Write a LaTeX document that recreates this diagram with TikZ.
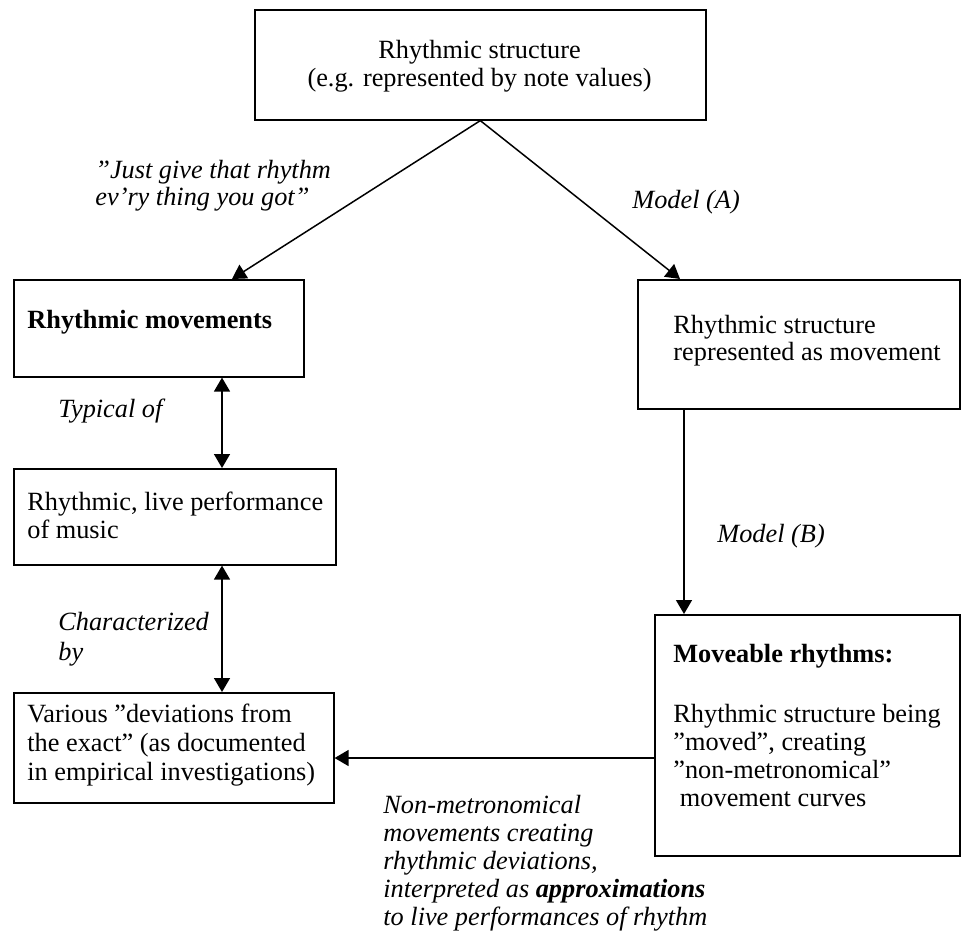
\documentclass[tikz,border=0pt]{standalone}
\usepackage{fontspec}
\setmainfont{Liberation Serif}
\usetikzlibrary{arrows.meta,calc}
% top-aligned block of lines: width, baselineskip, content
\newcommand{\blocktext}[3]{\parbox[t]{#1}{\fontsize{13.15pt}{#2}\selectfont #3}}
\begin{document}
\begin{tikzpicture}[x=0.5pt,y=-0.5pt,
  box/.style={draw,line width=0.8pt,rectangle,inner sep=0pt,anchor=north west},
  txt/.style={inner sep=0pt,anchor=base west,font=\fontsize{13.15pt}{14pt}\selectfont},
  lab/.style={txt,font=\fontsize{13.15pt}{14pt}\selectfont\itshape},
  arr/.style={line width=0.75pt,-{Triangle[length=7pt,width=8pt]}},
  dbl/.style={line width=0.75pt,{Triangle[length=7pt,width=8pt]}-{Triangle[length=7pt,width=8pt]}}]
\useasboundingbox[fill=white] (0,0) rectangle (961,931);

% boxes
\node[box,minimum width=225.5pt,minimum height=55pt] (top) at (254,9) {};
\node[box,minimum width=145pt,minimum height=48.5pt] (mov) at (13,279) {};
\node[box,minimum width=161pt,minimum height=64.5pt] (rep) at (637,279) {};
\node[box,minimum width=161pt,minimum height=48pt] (live) at (13,468) {};
\node[box,minimum width=160pt,minimum height=55pt] (var) at (13,692) {};
\node[box,minimum width=152.5pt,minimum height=120.5pt] (move) at (654,614) {};

% box texts
\node[txt,anchor=base] (toptxt) at (479.5,59)
  {\blocktext{220pt}{14pt}{\centering Rhythmic structure\\(e.g. represented by note values)}};
\node[txt] (movtxt) at (27,328) {\textbf{Rhythmic movements}};
\node[txt] (reptxt) at (673,333)
  {\blocktext{200pt}{13.5pt}{\raggedright Rhythmic structure\\represented as movement}};
\node[txt] (livetxt) at (27,510)
  {\blocktext{200pt}{14pt}{\raggedright Rhythmic, live performance\\of music}};
\node[txt] (vartxt) at (27,722)
  {\blocktext{200pt}{14.5pt}{\raggedright Various ”deviations from\\the exact” (as documented\\in empirical investigations)}};
\node[txt] (movetitle) at (673,662) {\textbf{Moveable rhythms:}};
\node[txt] (movetxt) at (673,722)
  {\blocktext{200pt}{14pt}{\raggedright Rhythmic structure being\\”moved”, creating\\”non-metronomical”\\\hspace{0.25em}movement curves}};

% connectors
\draw[arr] (top.south) -- ($(mov.north west)+(219,0)$);
\draw[arr] (top.south) -- ($(rep.north west)+(43,0)$);
\draw[dbl] ($(mov.south west)+(209,0)$) coordinate (d1) -- (d1 |- live.north);
\draw[dbl] ($(live.south west)+(209,0)$) coordinate (d2) -- (d2 |- var.north);
\draw[arr] ($(rep.south west)+(47,0)$) coordinate (d3) -- (d3 |- move.north);
\draw[arr] ($(move.north west)+(0,144)$) coordinate (d4) -- (d4 -| var.east);

% connector labels
\node[lab] (justlab) at (95,178)
  {\blocktext{200pt}{13.5pt}{\raggedright ”Just give that rhythm\\ev’ry thing you got”}};
\node[lab] (modelA) at (632,208) {Model (A)};
\node[lab] (typical) at (58,417) {Typical of};
\node[lab] (modelB) at (717,542) {Model (B)};
\node[lab] (charby) at (58,630)
  {\blocktext{150pt}{15pt}{\raggedright Characterized\\by}};
\node[lab] (nonmet) at (383,813)
  {\blocktext{250pt}{14.1pt}{\raggedright Non-metronomical\\movements creating\\rhythmic deviations,\\interpreted as \textbf{approximations}\\to live performances of rhythm}};
\end{tikzpicture}
\end{document}
